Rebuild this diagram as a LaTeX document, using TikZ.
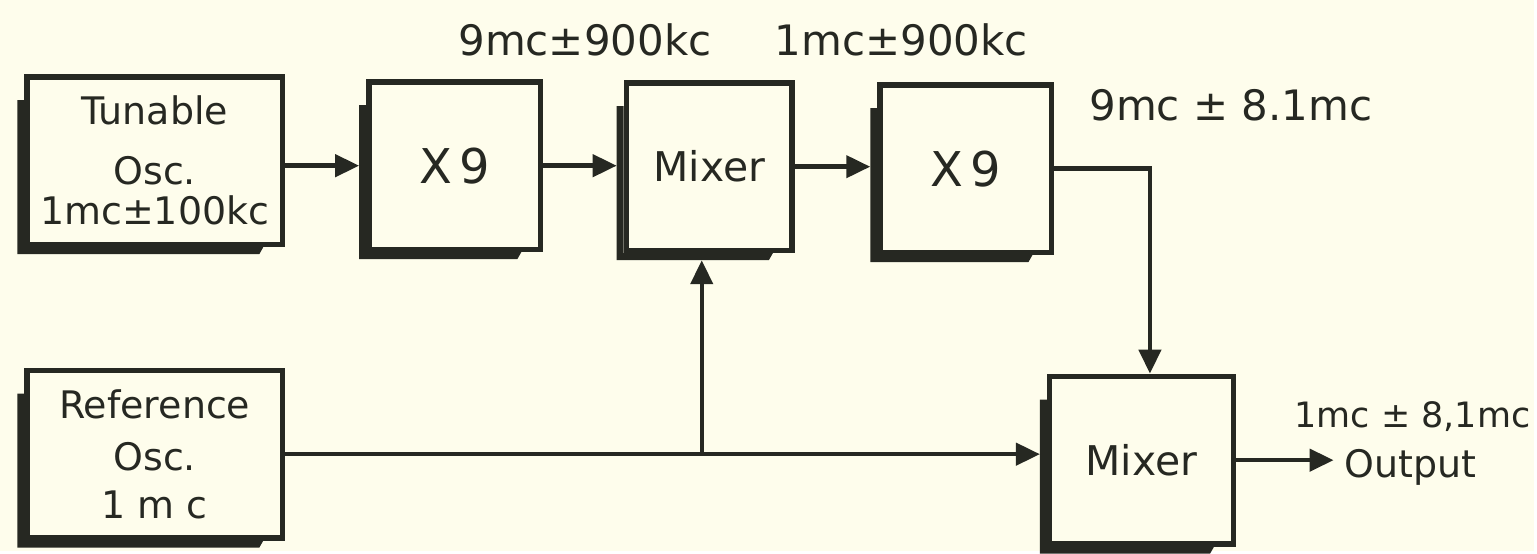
\documentclass[tikz,border=0pt]{standalone}
\usepackage{fontspec}
\setmainfont{DejaVu Sans}
\usetikzlibrary{arrows.meta,calc}
\usepackage{xcolor}
\definecolor{paper}{RGB}{254,253,236}
\definecolor{ink}{RGB}{38,40,34}
\newcommand{\boxshade}[1]{% left and bottom shade of a block
  \fill[ink] ([xshift=-3.5pt,yshift=-13pt]#1.north west) -- ([yshift=-13pt]#1.north west)
    -- (#1.south west) -- ([xshift=-11pt]#1.south east)
    -- ([xshift=-13pt,yshift=-3.5pt]#1.south east) -- ([xshift=-3.5pt,yshift=-3.5pt]#1.south west) -- cycle;
}

\begin{document}
\begin{tikzpicture}[x=0.5pt,y=0.5pt,
  blk/.style={draw=ink,line width=2.7pt,fill=paper,minimum height=84pt,align=center,inner sep=1pt,text=ink},
  sig/.style={draw=ink,line width=2.2pt,-{Triangle[length=12pt,width=11pt]}},
  lbl/.style={font=\fontsize{21}{24}\selectfont,text=ink}]
  \fill[paper] (0,0) rectangle (1537,552);
  % blocks
  \node[blk,minimum width=128pt,font=\fontsize{19}{20}\selectfont] (tosc) at (155,391) {Tunable\\[10pt]Osc.\\1mc±100kc};
  \node[blk,minimum width=86pt,font=\fontsize{24}{26}\selectfont] (mulA) at (455.5,386) {X\,9};
  \node[blk,minimum width=83pt,font=\fontsize{20.5}{22}\selectfont] (mixA) at (710.5,385) {Mixer};
  \node[blk,minimum width=86pt,font=\fontsize{24}{26}\selectfont] (mulB) at (967.5,383) {X\,9};
  \node[blk,minimum width=92pt,font=\fontsize{20.5}{22}\selectfont] (mixB) at (1143.5,91) {Mixer};
  \node[blk,minimum width=128pt,font=\fontsize{19}{24}\selectfont] (rosc) at (155,97) {Reference\\[2pt]Osc.\\1 m c};
  \foreach \n in {tosc,mulA,mixA,mulB,mixB,rosc}{\boxshade{\n}}
  % labels
  \node[lbl] (fA) at (586,512) {9mc±900kc};
  \node[lbl] (fB) at (903,512) {1mc±900kc};
  \node[lbl] (fC) at (1233,447) {9mc ± 8.1mc};
  \node[lbl,font=\fontsize{17.5}{20}\selectfont] (fD) at (1415,135) {1mc ± 8,1mc};
  \node[lbl,font=\fontsize{19}{22}\selectfont,anchor=west] (outl) at (1340,84) {Output};
  % signal paths
  \coordinate (turn) at (1152,0);
  \coordinate (split) at (703,0);
  \draw[sig,shorten >=3.5pt] (tosc.east |- mulA.west) -- (mulA.west);
  \draw[sig,shorten >=3.5pt] (mulA.east) -- (mulA.east -| mixA.west);
  \draw[sig,shorten >=3.5pt] (mixA.east) -- (mixA.east -| mulB.west);
  \draw[sig] (mulB.east) -| (turn |- mixB.north);
  \draw[sig,shorten >=3.5pt] (rosc.east) -- (rosc.east -| mixB.west);
  \draw[sig,shorten >=3.5pt] (split |- rosc.east) -- (split |- mixA.south);
  \draw[sig,shorten >=2pt] (mixB.east) -- (mixB.east -| outl.west);
\end{tikzpicture}
\end{document}
